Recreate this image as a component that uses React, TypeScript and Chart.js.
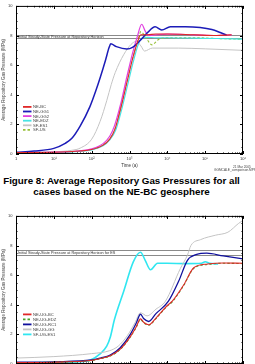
import React, { useEffect, useRef } from 'react';
import { Chart, registerables } from 'chart.js';
Chart.register(...registerables);

const FONT = "'Liberation Sans', Arial, sans-serif";

// ---- shared axes ----
const xDecades = [1, 10, 100, 1000, 10000, 100000, 1000000];
const xTickLabels = ['1', '10¹', '10²', '10³', '10⁴', '10⁵', '10⁶'];
const xTitle = 'Time (a)';
const yTitle = 'Average Repository Gas Pressure (MPa)';

// ---- top chart (NE-BC geosphere) ----
const topRefLevels = [8.06, 7.8];
const topRefLabel = 'Initial Steady-State Pressure at Repository Horizon';
const topNames = ['NE-BC', 'NE-GG1', 'NE-GG2', 'NE-EDZ', 'SF-ES1', 'SF-US'];
const topColors = ['#e02828', '#1c1cb8', '#e040e0', '#48e4e4', '#c4c4c4', '#98c038'];

const neBcT = [1, 10, 50, 100, 200, 300, 415, 600, 865, 1200, 1600, 2000, 3000, 5000, 10000, 50000, 200000, 500000];
const neBcP = [0.1, 0.12, 0.2, 0.3, 0.6, 1.0, 1.7, 3.2, 4.9, 6.4, 7.5, 8.05, 8.05, 8.1, 8.1, 8.05, 8.0, 8.05];
const neGg1T = [1, 3, 10, 20, 30, 50, 90, 130, 170, 230, 290, 320, 450, 850, 1200, 1900, 3000, 4750, 7100, 12000, 30000, 74000, 150000, 250000, 370000];
const neGg1P = [0.12, 0.2, 0.38, 0.72, 1.06, 1.9, 3.2, 4.3, 5.2, 6.3, 7.2, 7.44, 7.25, 7.09, 7.2, 7.66, 8.2, 8.59, 8.37, 8.59, 8.6, 8.54, 8.4, 8.2, 8.03];
const neGg2T = [1, 10, 50, 100, 200, 300, 400, 600, 850, 1200, 1600, 2100, 2600, 3200, 5000, 10000, 50000, 200000, 500000];
const neGg2P = [0.1, 0.12, 0.22, 0.35, 0.7, 1.2, 1.9, 3.5, 5.2, 6.8, 7.9, 8.76, 8.3, 8.0, 8.05, 8.1, 8.05, 8.0, 8.05];
const neEdzT = [1, 10, 50, 100, 200, 300, 430, 620, 900, 1250, 1700, 2200, 3000, 5000, 10000, 50000, 200000, 1000000];
const neEdzP = [0.08, 0.1, 0.18, 0.28, 0.55, 0.95, 1.6, 3.0, 4.7, 6.2, 7.4, 7.85, 7.88, 7.85, 7.85, 7.82, 7.8, 7.75];
const sfEs1T = [1, 10, 30, 50, 100, 167, 250, 330, 420, 700, 1100, 1500, 2000, 2500, 4000, 20000, 100000, 1000000];
const sfEs1P = [0.1, 0.15, 0.25, 0.4, 1.0, 2.2, 3.6, 4.7, 5.5, 6.7, 7.4, 7.6, 7.3, 6.95, 7.15, 7.15, 7.1, 7.0];
const sfUsT = [1, 10, 50, 100, 200, 300, 415, 600, 865, 1200, 1600, 2000, 2800, 3900, 6000, 10000, 50000, 200000, 1000000];
const sfUsP = [0.1, 0.12, 0.2, 0.3, 0.6, 1.0, 1.7, 3.2, 4.9, 6.4, 7.5, 8.26, 7.8, 7.37, 7.75, 7.85, 7.85, 7.8, 7.75];

// ---- bottom chart (UG cases) ----
const botRefLevels = [7.72, 7.35];
const botRefLabel = 'Initial Steady-State Pressure at Repository Horizon for ES';
const botNames = ['NE-UG-BC', 'NE-UG-EDZ', 'NE-UG-RC1', 'NE-UG-GG', 'SF-UG-ES1'];
const botColors = ['#e02828', '#48a028', '#10109c', '#c4c4c4', '#30e6f0'];

const ugBcT = [1, 10, 100, 170, 310, 570, 1050, 1500, 1950, 2400, 3200, 5000, 10000, 13500, 27000, 50000, 115000, 300000, 1000000];
const ugBcP = [0.1, 0.12, 0.25, 0.37, 0.55, 1.0, 1.85, 2.5, 3.05, 2.8, 2.65, 3.1, 3.95, 4.24, 5.33, 6.5, 6.75, 6.82, 6.8];
const ugEdzT = [1, 10, 100, 170, 310, 570, 1050, 1500, 1950, 2400, 3200, 5000, 10000, 13500, 27000, 50000, 115000, 300000, 1000000];
const ugEdzP = [0.1, 0.12, 0.24, 0.36, 0.54, 0.98, 1.82, 2.47, 3.0, 2.77, 2.62, 3.07, 3.92, 4.2, 5.3, 6.46, 6.72, 6.8, 6.78];
const ugRc1T = [1, 10, 100, 170, 310, 570, 1050, 1500, 1950, 2400, 3200, 5000, 10700, 20000, 34000, 60000, 110000, 300000, 1000000];
const ugRc1P = [0.12, 0.15, 0.27, 0.4, 0.6, 1.1, 2.0, 2.75, 3.36, 3.05, 2.87, 3.4, 4.24, 5.6, 7.0, 7.4, 7.48, 7.3, 7.1];
const ugGgT = [1, 10, 100, 300, 500, 870, 1400, 1950, 2900, 5000, 8900, 22000, 34000, 42000, 76000, 190000, 400000, 770000, 1000000];
const ugGgP = [0.4, 0.5, 0.7, 0.9, 1.2, 1.9, 2.8, 3.46, 3.25, 3.7, 4.24, 6.44, 7.35, 8.0, 8.4, 8.7, 8.9, 9.5, 9.7];
const ugEs1T = [1, 10, 50, 90, 170, 250, 310, 400, 700, 1260, 1950, 2600, 3600, 5500, 10000, 30000, 80000, 100000, 130000, 220000];
const ugEs1P = [0.08, 0.1, 0.15, 0.25, 0.7, 1.2, 1.8, 3.0, 4.9, 6.9, 7.55, 7.0, 6.36, 6.8, 6.8, 6.78, 6.8, 6.9, 6.8, 6.75];

const captionLines = ['Figure 8: Average Repository Gas Pressures for all', 'cases based on the NE-BC geosphere'];
const stampLines = ['21 Mar 2005', 'GGMCALE_comparison.MPS'];

const zip = (t: number[], p: number[]) => t.map((v, i) => ({ x: v, y: p[i] }));

type Cfg = {
  series: { name: string; color: string; t: number[]; p: number[]; width: number; dash?: number[] }[];
  refLevels: number[];
  refLabel: string;
  legendTop: number;
  legendStep: number;
  stamp: boolean;
};

function makeDeco(cfg: Cfg) {
  return {
    id: 'deco',
    beforeDatasetsDraw(chart: any) {
      const { ctx, chartArea: a, scales } = chart;
      const y = scales.y;
      ctx.save();
      ctx.strokeStyle = '#8a8a8a';
      ctx.lineWidth = 1;
      cfg.refLevels.forEach((v) => {
        const py = Math.round(y.getPixelForValue(v)) + 0.5;
        ctx.beginPath();
        ctx.moveTo(a.left, py);
        ctx.lineTo(a.right, py);
        ctx.stroke();
      });
      const mid = (y.getPixelForValue(cfg.refLevels[0]) + y.getPixelForValue(cfg.refLevels[1])) / 2;
      ctx.font = `3.8px ${FONT}`;
      ctx.fillStyle = '#333';
      ctx.textBaseline = 'middle';
      ctx.textAlign = 'left';
      ctx.fillText(cfg.refLabel, a.left + 2, mid + 0.5);
      ctx.restore();
    },
    afterDatasetsDraw(chart: any) {
      const { ctx, chartArea: a, scales } = chart;
      const x = scales.x;
      const y = scales.y;
      ctx.save();
      ctx.strokeStyle = '#000';
      ctx.lineWidth = 1;
      ctx.strokeRect(a.left + 0.5, a.top + 0.5, a.right - a.left - 1, a.bottom - a.top - 1);
      ctx.beginPath();
      for (let d = 1; d < 1e6; d *= 10) {
        for (let m = 1; m <= 10; m++) {
          const v = d * m;
          const px = Math.round(x.getPixelForValue(v)) + 0.5;
          const len = m === 1 || m === 10 ? 3 : 1.5;
          ctx.moveTo(px, a.top);
          ctx.lineTo(px, a.top + len);
          ctx.moveTo(px, a.bottom);
          ctx.lineTo(px, a.bottom - len);
        }
      }
      for (let v = 0; v <= 10; v += 0.5) {
        const py = Math.round(y.getPixelForValue(v)) + 0.5;
        const len = v % 2 === 0 ? 3 : 1.5;
        ctx.moveTo(a.left, py);
        ctx.lineTo(a.left + len, py);
        ctx.moveTo(a.right, py);
        ctx.lineTo(a.right - len, py);
      }
      ctx.stroke();

      // legend
      chart.data.datasets.forEach((ds: any, i: number) => {
        const ly = a.top + cfg.legendTop + i * cfg.legendStep;
        ctx.strokeStyle = ds.borderColor;
        ctx.lineWidth = 1.8;
        ctx.setLineDash(ds.borderDash || []);
        ctx.beginPath();
        ctx.moveTo(a.left + 7, ly);
        ctx.lineTo(a.left + 15.5, ly);
        ctx.stroke();
        ctx.setLineDash([]);
        ctx.font = `4.2px ${FONT}`;
        ctx.fillStyle = '#444';
        ctx.textBaseline = 'middle';
        ctx.textAlign = 'left';
        ctx.fillText(ds.label, a.left + 17, ly + 0.3);
      });

      if (cfg.stamp) {
        ctx.font = `3.2px ${FONT}`;
        ctx.fillStyle = '#444';
        ctx.textBaseline = 'middle';
        ctx.textAlign = 'left';
        ctx.fillText(stampLines[0], a.right - 10, a.bottom + 13);
        ctx.fillText(stampLines[1], a.right - 29, a.bottom + 16.5);
      }
      ctx.restore();
    },
  };
}

function GasChart({ cfg }: { cfg: Cfg }) {
  const ref = useRef<HTMLCanvasElement>(null);
  useEffect(() => {
    const canvas = ref.current!;
    const tickFont = { size: 4, family: FONT };
    const chart = new Chart(canvas, {
      type: 'line',
      data: {
        datasets: cfg.series.map((s) => ({
          label: s.name,
          data: zip(s.t, s.p),
          borderColor: s.color,
          backgroundColor: s.color,
          borderWidth: s.width,
          borderDash: s.dash || [],
          pointRadius: 0,
          fill: false,
          cubicInterpolationMode: 'monotone' as const,
        })),
      },
      options: {
        animation: false,
        responsive: false,
        devicePixelRatio: 1,
        parsing: true,
        layout: { padding: { top: 3, right: 12, left: 0, bottom: 0 } },
        plugins: { legend: { display: false }, tooltip: { enabled: false } },
        scales: {
          x: {
            type: 'logarithmic',
            min: 1,
            max: 1e6,
            afterFit: (s: any) => {
              s.height = 21;
            },
            afterBuildTicks: (s: any) => {
              s.ticks = xDecades.map((v) => ({ value: v }));
            },
            ticks: {
              autoSkip: false,
              maxRotation: 0,
              minRotation: 0,
              padding: 2.5,
              font: tickFont,
              color: '#333',
              callback: (v: any) => {
                const i = xDecades.indexOf(Number(v));
                return i >= 0 ? xTickLabels[i] : '';
              },
            },
            grid: { display: false, drawTicks: false },
            border: { display: false },
            title: { display: true, text: xTitle, font: { size: 4.5, family: FONT }, color: '#333', padding: { top: 0, bottom: 6.3 } },
          },
          y: {
            type: 'linear',
            min: 0,
            max: 10,
            afterFit: (s: any) => {
              s.width = 16;
            },
            ticks: { stepSize: 2, padding: 3.5, font: tickFont, color: '#333' },
            grid: { display: false, drawTicks: false },
            border: { display: false },
            title: { display: true, text: yTitle, font: { size: 4.5, family: FONT }, color: '#444', padding: { top: 1.3, bottom: 0 } },
          },
        },
      },
      plugins: [makeDeco(cfg)],
    } as any);
    return () => chart.destroy();
  }, [cfg]);
  return <canvas ref={ref} width={255} height={175} style={{ display: 'block', width: 255, height: 175 }} />;
}

const topCfg: Cfg = {
  series: [
    { name: topNames[0], color: topColors[0], t: neBcT, p: neBcP, width: 1.1 },
    { name: topNames[1], color: topColors[1], t: neGg1T, p: neGg1P, width: 1.5 },
    { name: topNames[2], color: topColors[2], t: neGg2T, p: neGg2P, width: 1.2 },
    { name: topNames[3], color: topColors[3], t: neEdzT, p: neEdzP, width: 1.2 },
    { name: topNames[4], color: topColors[4], t: sfEs1T, p: sfEs1P, width: 1 },
    { name: topNames[5], color: topColors[5], t: sfUsT, p: sfUsP, width: 1.1, dash: [2.5, 2] },
  ],
  refLevels: topRefLevels,
  refLabel: topRefLabel,
  legendTop: 101,
  legendStep: 4.6,
  stamp: true,
};

const botCfg: Cfg = {
  series: [
    { name: botNames[0], color: botColors[0], t: ugBcT, p: ugBcP, width: 1.1 },
    { name: botNames[1], color: botColors[1], t: ugEdzT, p: ugEdzP, width: 1.1, dash: [2.5, 2] },
    { name: botNames[2], color: botColors[2], t: ugRc1T, p: ugRc1P, width: 1.3 },
    { name: botNames[3], color: botColors[3], t: ugGgT, p: ugGgP, width: 1 },
    { name: botNames[4], color: botColors[4], t: ugEs1T, p: ugEs1P, width: 1.6 },
  ],
  refLevels: botRefLevels,
  refLabel: botRefLabel,
  legendTop: 98.5,
  legendStep: 5,
  stamp: false,
};

export default function App() {
  useEffect(() => {
    document.body.style.margin = '0';
    document.body.style.overflow = 'hidden';
    document.documentElement.style.overflow = 'hidden';
  }, []);
  return (
    <div style={{ position: 'relative', width: 255, height: 364, overflow: 'hidden', background: '#fff' }}>
      <div style={{ position: 'absolute', left: 0, top: 0 }}>
        <GasChart cfg={topCfg} />
      </div>
      <div
        style={{
          position: 'absolute',
          left: 0,
          top: 175,
          width: 243,
          textAlign: 'center',
          fontFamily: FONT,
          fontWeight: 'bold',
          fontSize: '9.8px',
          lineHeight: '11.3px',
          color: '#000',
          whiteSpace: 'nowrap',
        }}
      >
        {captionLines.map((l, i) => (
          <div key={i}>{l}</div>
        ))}
      </div>
      <div style={{ position: 'absolute', left: 0, top: 210 }}>
        <GasChart cfg={botCfg} />
      </div>
    </div>
  );
}
